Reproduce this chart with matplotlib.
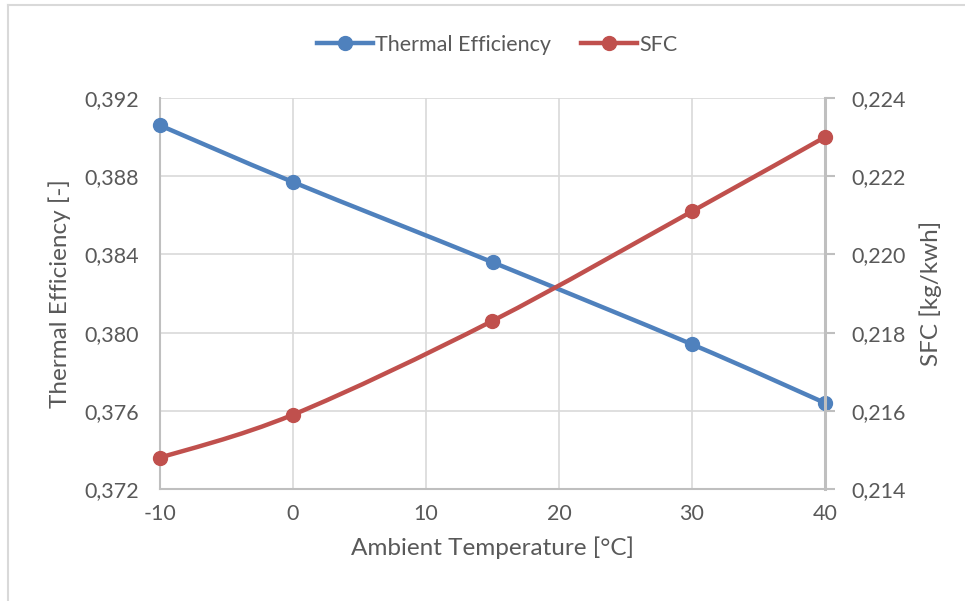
"""Thermal efficiency and SFC vs ambient temperature (Excel-style twin-axis line chart)."""

import matplotlib
matplotlib.use('Agg')
import matplotlib.pyplot as plt
import numpy as np
from matplotlib.path import Path
from matplotlib.patches import PathPatch
from matplotlib.lines import Line2D
from matplotlib.ticker import FuncFormatter

# --- data ---
temps = [-10, 0, 15, 30, 40]
thermal_eff = [0.3906, 0.3877, 0.3836, 0.3794, 0.3764]
sfc = [0.2148, 0.2159, 0.2183, 0.2211, 0.2230]

left_ticks = [0.372, 0.376, 0.380, 0.384, 0.388, 0.392]
right_ticks = [0.214, 0.216, 0.218, 0.220, 0.222, 0.224]
x_ticks = [-10, 0, 10, 20, 30, 40]

BLUE = '#4f81bd'
RED = '#c0504d'
TXT = '#595959'
GRID = '#d9d9d9'
SPINE = '#bfbfbf'
FONT = ['Lato', 'DejaVu Sans']

plt.rcParams['font.family'] = FONT
plt.rcParams['axes.unicode_minus'] = False


def comma_fmt(v, _pos):
    return f'{v:.3f}'.replace('.', ',')


def smooth_path(xs, ys):
    """Catmull-Rom style bezier through the points, like Excel's smoothed line."""
    pts = np.column_stack([xs, ys]).astype(float)
    verts = [pts[0]]
    codes = [Path.MOVETO]
    n = len(pts)
    for i in range(n - 1):
        p0 = pts[i - 1] if i > 0 else pts[i]
        p1, p2 = pts[i], pts[i + 1]
        p3 = pts[i + 2] if i + 2 < n else pts[i + 1]
        c1 = p1 + (p2 - p0) / 6.0
        c2 = p2 - (p3 - p1) / 6.0
        verts += [c1, c2, p2]
        codes += [Path.CURVE4] * 3
    return Path(verts, codes)


def draw_series(ax, xs, ys, color):
    ax.add_patch(PathPatch(smooth_path(xs, ys), fill=False, edgecolor=color,
                           lw=3.2, capstyle='round', joinstyle='round', zorder=3,
                           clip_on=False))
    ax.plot(xs, ys, ls='none', marker='o', ms=10, color=color, zorder=4,
            clip_on=False)


fig = plt.figure(figsize=(9.65, 6.01), dpi=100)
ax = fig.add_axes([160 / 965, 1 - 489 / 601, 665 / 965, 391 / 601])
ax2 = ax.twinx()

draw_series(ax, temps, thermal_eff, BLUE)
draw_series(ax2, temps, sfc, RED)

ax.set_xlim(-10, 40)
ax.set_ylim(0.372, 0.392)
ax2.set_ylim(0.214, 0.224)
ax.set_xticks(x_ticks)
ax.set_yticks(left_ticks)
ax2.set_yticks(right_ticks)
ax.yaxis.set_major_formatter(FuncFormatter(comma_fmt))
ax2.yaxis.set_major_formatter(FuncFormatter(comma_fmt))

ax.grid(True, color=GRID, lw=1.2, zorder=0)
ax.set_axisbelow(True)

for a in (ax, ax2):
    for s in a.spines.values():
        s.set_visible(False)
ax.spines['bottom'].set_visible(True)
ax.spines['bottom'].set_color(SPINE)
ax.spines['bottom'].set_linewidth(1.5)
ax.spines['left'].set_visible(True)
ax.spines['left'].set_color(SPINE)
ax.spines['left'].set_linewidth(1.5)
ax2.spines['right'].set_visible(True)
ax2.spines['right'].set_color(SPINE)
ax2.spines['right'].set_linewidth(2.2)

ax.tick_params(axis='x', length=0, pad=11, labelsize=15.5, labelcolor=TXT)
ax.tick_params(axis='y', length=0, pad=15, labelsize=15.5, labelcolor=TXT)
ax2.tick_params(axis='y', length=7, width=1.5, color=SPINE, direction='out',
                pad=12, labelsize=15.5, labelcolor=TXT)

ax.set_xlabel('Ambient Temperature [°C]', fontsize=17.5, color=TXT, labelpad=9)
ax.set_ylabel('Thermal Efficiency [-]', fontsize=17.5, color=TXT, labelpad=10)
ax2.set_ylabel('SFC [kg/kwh]', fontsize=17.5, color=TXT, labelpad=10)

handles = [
    Line2D([], [], color=BLUE, lw=3.2, marker='o', ms=10),
    Line2D([], [], color=RED, lw=3.2, marker='o', ms=10),
]
leg = fig.legend(handles, ['Thermal Efficiency', 'SFC'], loc='center',
                 bbox_to_anchor=(497 / 965, 1 - 45 / 601), ncol=2, frameon=False,
                 fontsize=15.5, handlelength=2.6, handletextpad=0.1,
                 columnspacing=1.4)
for t in leg.get_texts():
    t.set_color(TXT)

# chart-area frame (top and left edges visible in the crop)
fig.add_artist(Line2D([8 / 965, 8 / 965], [0, 1 - 5 / 601], transform=fig.transFigure,
                      color=GRID, lw=1.5))
fig.add_artist(Line2D([8 / 965, 1], [1 - 5 / 601, 1 - 5 / 601], transform=fig.transFigure,
                      color=GRID, lw=1.5))

fig.savefig('out.png', dpi=100, facecolor='white')
